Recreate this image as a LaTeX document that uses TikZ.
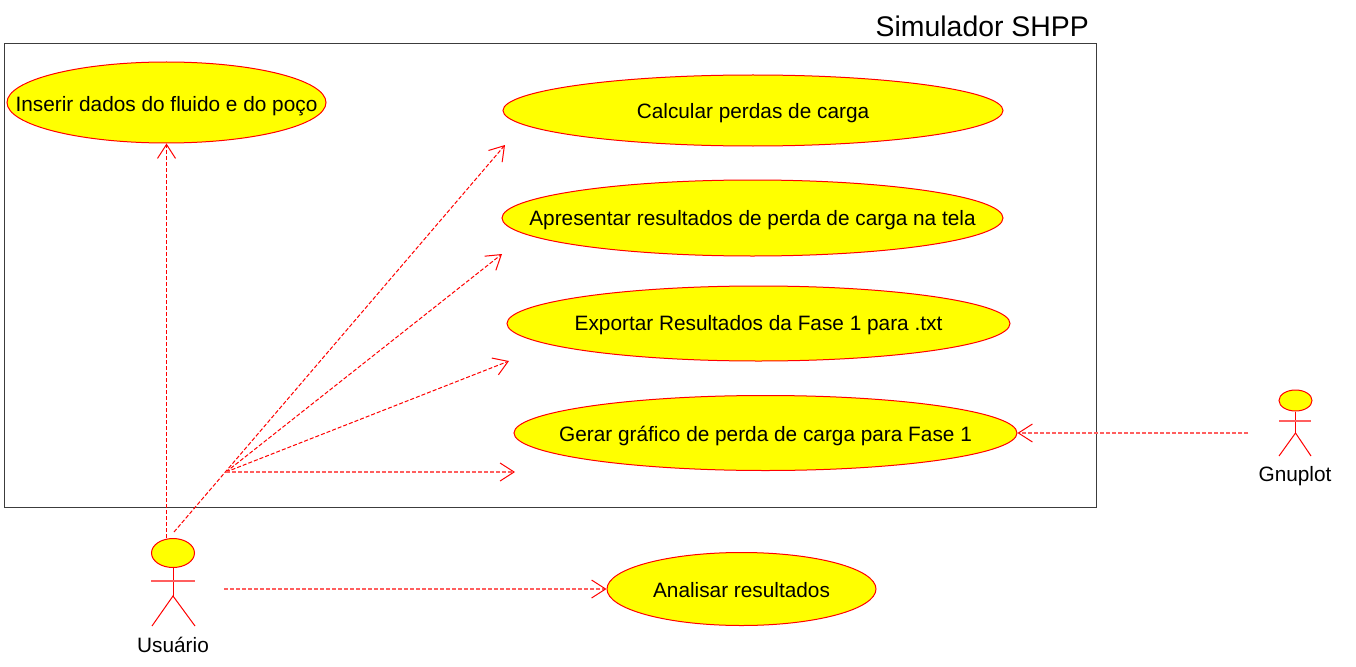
\documentclass[tikz,border=0pt]{standalone}
\usepackage{fontspec}
\setmainfont{Liberation Sans}
\usetikzlibrary{shapes.geometric,arrows.meta}
\definecolor{ucfill}{RGB}{255,255,0}
\definecolor{ucline}{RGB}{255,0,0}
\definecolor{ucdep}{RGB}{255,0,0}
\definecolor{ucsoft}{RGB}{255,95,95}
\definecolor{frameline}{RGB}{60,60,60}
\tikzset{
  x=1pt,y=-1pt,
  usecase/.style={ellipse,draw=ucline,fill=ucfill,line width=1pt,inner sep=0pt,minimum width=#1},
  txt/.style={font=\fontsize{20.8}{24}\selectfont,text=black,inner sep=0pt},
  dep/.style={draw=ucdep,line width=1pt,dash pattern=on 4pt off 2pt,-{Straight Barb[length=14pt,width=18pt,line width=1pt]}},
  hdep/.style={dep,draw=ucsoft,line width=1.2pt,-{Straight Barb[length=14pt,width=18pt,line width=1pt,color=ucdep]}},
  plain/.style={draw=ucdep,line width=1pt},
  arm/.style={draw=ucsoft,line width=1.2pt},
  frame/.style={draw=frameline,line width=1pt},
}
\begin{document}
\begin{tikzpicture}
\useasboundingbox (0,0) rectangle (1356,666);
\node[frame,draw,rectangle,inner sep=0pt,minimum width=1092pt,minimum height=463pt] (frm) at (550,275.5) {};
\node[txt,font=\fontsize{28.4}{32}\selectfont,anchor=east] (title) at (1089,26.5) {Simulador SHPP};

\node[usecase=319pt,minimum height=81pt,label={[txt,yshift=-3.5pt]center:Inserir dados do fluido e do poço}] (ins) at (166.5,102.5) {};
\node[usecase=500pt,minimum height=71pt,label={[txt,yshift=-3pt]center:Calcular perdas de carga}] (cal) at (753,110.5) {};
\node[usecase=501pt,minimum height=76pt,label={[txt,yshift=-2pt]center:Apresentar resultados de perda de carga na tela}] (apr) at (752.5,218) {};
\node[usecase=503pt,minimum height=75pt,label={[txt,yshift=-2pt]center:Exportar Resultados da Fase 1 para .txt}] (exp) at (758.5,323.5) {};
\node[usecase=503pt,minimum height=75pt,label={[txt,yshift=-3pt]center:Gerar gráfico de perda de carga para Fase 1}] (ger) at (765.5,433) {};
\node[usecase=269pt,minimum height=73pt,label={[txt,yshift=-1pt]center:Analisar resultados}] (ana) at (741.5,589) {};

% Usuario actor
\node[usecase=43pt,minimum height=29pt] (uh) at (173,553) {};
\coordinate (ub) at (173,596);
\coordinate (ual) at (151,581);
\coordinate (uar) at (195,581);
\coordinate (ull) at (152,626);
\coordinate (ulr) at (195,626);
\draw[plain] (uh.south) -- (ub);
\draw[arm] (ual) -- (uar);
\draw[plain] (ull) -- (ub) -- (ulr);
\node[txt] (ulabel) at (173,645) {Usuário};

% Gnuplot actor
\node[usecase=33pt,minimum height=21pt] (gh) at (1295.5,400.5) {};
\coordinate (gb) at (1295.5,433);
\coordinate (gal) at (1279,421);
\coordinate (gar) at (1311,421);
\coordinate (gll) at (1279,456);
\coordinate (glr) at (1311,456);
\draw[plain] (gh.south) -- (gb);
\draw[arm] (gal) -- (gar);
\draw[plain] (gll) -- (gb) -- (glr);
\node[txt] (glabel) at (1295,476) {Gnuplot};

% connectors
\coordinate (ut) at (166.5,538);
\coordinate (us) at (174,532);
\coordinate (j) at (226,472);
\coordinate (tc) at (505,145);
\coordinate (ta) at (502,254);
\coordinate (te) at (509,361);
\coordinate (tg) at (515,472);
\coordinate (ua) at (224,589);
\coordinate (gs) at (1248,433);
\draw[dep] (ut) -- (ins.south);
\draw[dep] (us) -- (tc);
\draw[dep] (j) -- (ta);
\draw[dep] (j) -- (te);
\draw[hdep] (j) -- (tg);
\draw[hdep] (ua) -- (ana.west);
\draw[hdep] (gs) -- (ger.east);
\end{tikzpicture}
\end{document}
